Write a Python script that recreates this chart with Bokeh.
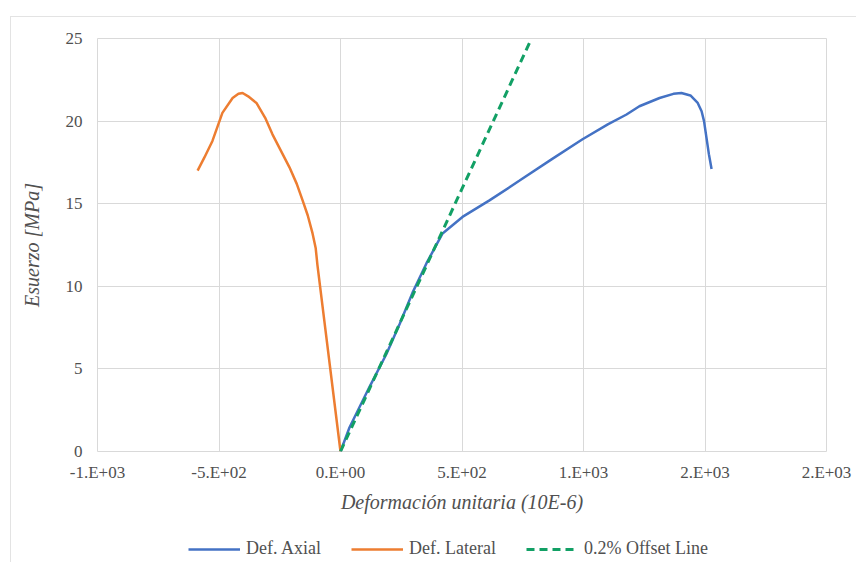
from bokeh.plotting import figure
from bokeh.models import Range1d, FixedTicker, Legend, LegendItem
from bokeh.layouts import column
from bokeh.embed import file_html
from bokeh.resources import INLINE

# ---- data ----
axial_x = [0, 37, 119, 189, 243, 296, 354, 420, 502, 613, 737, 870, 996, 1100, 1177, 1230, 1313, 1370, 1403, 1440, 1470, 1486, 1496, 1506, 1516, 1527]
axial_y = [0, 1.45, 3.9, 5.9, 7.7, 9.6, 11.4, 13.2, 14.2, 15.2, 16.4, 17.7, 18.9, 19.8, 20.4, 20.9, 21.4, 21.65, 21.7, 21.55, 21.1, 20.6, 20.0, 19.0, 18.0, 17.1]

lateral_x = [-588, -560, -527, -486, -444, -420, -403, -380, -346, -310, -280, -245, -210, -180, -156, -135, -115, -102, -95, 0]
lateral_y = [17.0, 17.8, 18.8, 20.5, 21.4, 21.65, 21.7, 21.5, 21.1, 20.2, 19.2, 18.2, 17.2, 16.2, 15.2, 14.3, 13.2, 12.3, 11.3, 0]

offset_x = [0, 786]
offset_y = [0, 25]

x_ticks = [-1000, -500, 0, 500, 1000, 1500, 2000]
x_tick_labels = ["-1.E+03", "-5.E+02", "0.E+00", "5.E+02", "1.E+03", "2.E+03", "2.E+03"]
y_ticks = [0, 5, 10, 15, 20, 25]

series_names = ["Def. Axial", "Def. Lateral", "0.2% Offset Line"]

BLUE = "#4472C4"
ORANGE = "#ED7D31"
GREEN = "#12A065"
SERIF = "Liberation Serif"
TXT = "#505050"

OX, OY = 11, 17          # content origin inside the outer chart frame
W, H1, H2 = 845, 503, 42
p = figure(width=W, height=H1, output_backend="svg", toolbar_location=None,
           x_range=Range1d(-1000, 2000), y_range=Range1d(0, 25),
           min_border_left=97 - OX, min_border_right=W - (826 - OX),
           min_border_top=38 - OY, min_border_bottom=H1 - (451 - OY))
p.background_fill_color = "white"
p.border_fill_color = "white"
p.outline_line_color = "#d9d9d9"
p.outline_line_width = 1

p.xaxis.ticker = FixedTicker(ticks=x_ticks)
p.xaxis.major_label_overrides = {t: l for t, l in zip(x_ticks, x_tick_labels)}
p.yaxis.ticker = FixedTicker(ticks=y_ticks)
for ax in (p.xaxis, p.yaxis):
    ax.axis_line_color = None
    ax.major_tick_line_color = None
    ax.minor_tick_line_color = None
    ax.major_tick_out = 0
    ax.major_tick_in = 0
    ax.minor_tick_out = 0
    ax.minor_tick_in = 0
    ax.major_label_text_font = SERIF
    ax.major_label_text_font_size = "17px"
    ax.major_label_text_color = TXT
    ax.axis_label_text_font = SERIF
    ax.axis_label_text_font_style = "italic"
    ax.axis_label_text_font_size = "20px"
    ax.axis_label_text_color = TXT
p.xaxis.major_label_standoff = 11
p.yaxis.major_label_standoff = 15
p.xaxis.axis_label = "Deformación unitaria (10E-6)"
p.yaxis.axis_label = "Esuerzo [MPa]"
p.xaxis.axis_label_standoff = 6
p.yaxis.axis_label_standoff = 20

p.xgrid.grid_line_color = "#d9d9d9"
p.ygrid.grid_line_color = "#d9d9d9"

p.line(axial_x, axial_y, line_color=BLUE, line_width=2.5)
p.line(lateral_x, lateral_y, line_color=ORANGE, line_width=2.5)
p.line(offset_x, offset_y, line_color=GREEN, line_width=3, line_dash="8 5")

# ---- legend strip (same series, drawn out of view so only the legend shows) ----
lg = figure(width=W, height=H2, output_backend="svg", toolbar_location=None,
            x_range=Range1d(10000, 10001), y_range=Range1d(0, 1),
            x_axis_type=None, y_axis_type=None,
            min_border_left=0, min_border_right=0, min_border_top=0, min_border_bottom=0)
lg.outline_line_color = None
lg.xgrid.visible = False
lg.ygrid.visible = False
l1 = lg.line(axial_x, axial_y, line_color=BLUE, line_width=2.5)
l2 = lg.line(lateral_x, lateral_y, line_color=ORANGE, line_width=2.5)
l3 = lg.line(offset_x, offset_y, line_color=GREEN, line_width=3, line_dash="8 5")

legend = Legend(items=[LegendItem(label=n, renderers=[r]) for n, r in zip(series_names, [l1, l2, l3])],
                orientation="horizontal", location=(91, 3),
                label_text_font=SERIF, label_text_font_size="18px",
                label_text_color=TXT, glyph_width=52, glyph_height=18,
                label_standoff=6, spacing=30, padding=0, margin=0,
                border_line_color=None, background_fill_alpha=0)
lg.add_layout(legend, "center")

layout = column(p, lg, spacing=0,
                styles={"margin-left": "10px", "margin-top": "16px",
                        "border-left": "1px solid #e3e3e3",
                        "border-top": "1px solid #e3e3e3"})
open("out.html", "w").write(file_html(layout, INLINE))
